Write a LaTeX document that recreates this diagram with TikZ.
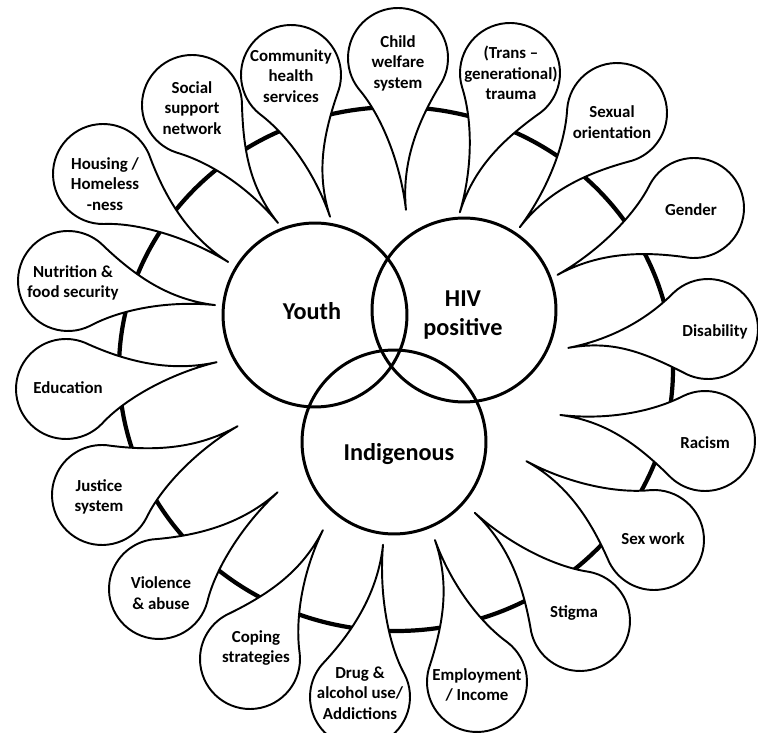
\documentclass[tikz,border=0pt]{standalone}
\usepackage{fontspec}
\setmainfont{Carlito}

\begin{document}
\begin{tikzpicture}[
  x=0.02cm, y=-0.02cm,
  ring/.style={line width=2.4pt},
  bubble/.style={draw, fill=white, line width=1.1pt, line join=round},
  hub/.style={draw, circle, line width=1.7pt, minimum size=3.68cm, inner sep=0pt},
  lbl/.style={align=center, font=\bfseries\fontsize{9.6}{11.7}\selectfont},
  hublbl/.style={align=center, font=\bfseries\fontsize{13.8}{17}\selectfont}
]
\useasboundingbox (0,0) rectangle (758,733);

% thick ring behind the bubbles
\draw[ring] (396,369) ellipse [x radius=277, y radius=262];

% bubbles: centre, direction and length of the tail, label position
\foreach \cx/\cy/\ang/\len/\tx/\ty/\txt [count=\i] in {
  398/58/87.0/152/398/63/{Child\\welfare\\system},
  510/73/109.8/148/511/73/{(Trans –\\generational)\\trauma},
  617/113/130.4/150/612/122/{Sexual\\orientation},
  694/208/153.9/152/691/210/{Gender},
  708/329/172.3/141/715/332/{Disability},
  705/441/190.2/147/705/443/{Racism},
  654/540/211.7/150/653/539/{Sex work},
  580/621/225.8/151/574/613/{Stigma},
  477/682/253.5/148/477/685/{Employment\\/ Income},
  360/697/278.6/154/360/693/{Drug \&\\alcohol use/\\Addictions},
  250/659/299.5/148/256/648/{Coping\\strategies},
  159/589/320.8/153/161/593/{Violence\\\& abuse},
  102/495/333.1/152/99/497/{Justice\\system},
  66/389/349.9/153/68/388/{Education},
  68/281/9.3/149/73/283/{Nutrition \&\\food security},
  103/174/35.1/153/105/184/{Housing /\\Homeless\\-ness},
  192/105/53.9/146/192/108/{Social\\support\\network},
  291/75/74.6/147/291/76/{Community\\health\\services}} {
  \begin{scope}[shift={(\cx,\cy)}, rotate=-\ang]
    \draw[bubble] (\len,0) .. controls (\len-48,3) and (56,20) .. (54:50)
      arc[start angle=54, end angle=302, radius=50]
      .. controls (66,-15) and (\len-46,2) .. (\len,0) -- cycle;
  \end{scope}
  \node[lbl] (lbl\i) at (\tx,\ty) {\txt};
}

% the three overlapping circles
\node[hub] (youth) at (315,315) {};
\node[hub] (hiv) at (464,310) {};
\node[hub] (indig) at (394,442) {};
\node[hublbl] (youthlbl) at (312,311) {Youth};
\node[hublbl] (hivlbl) at (463,315) {HIV\\positive};
\node[hublbl] (indiglbl) at (399,454) {Indigenous};
\end{tikzpicture}
\end{document}
